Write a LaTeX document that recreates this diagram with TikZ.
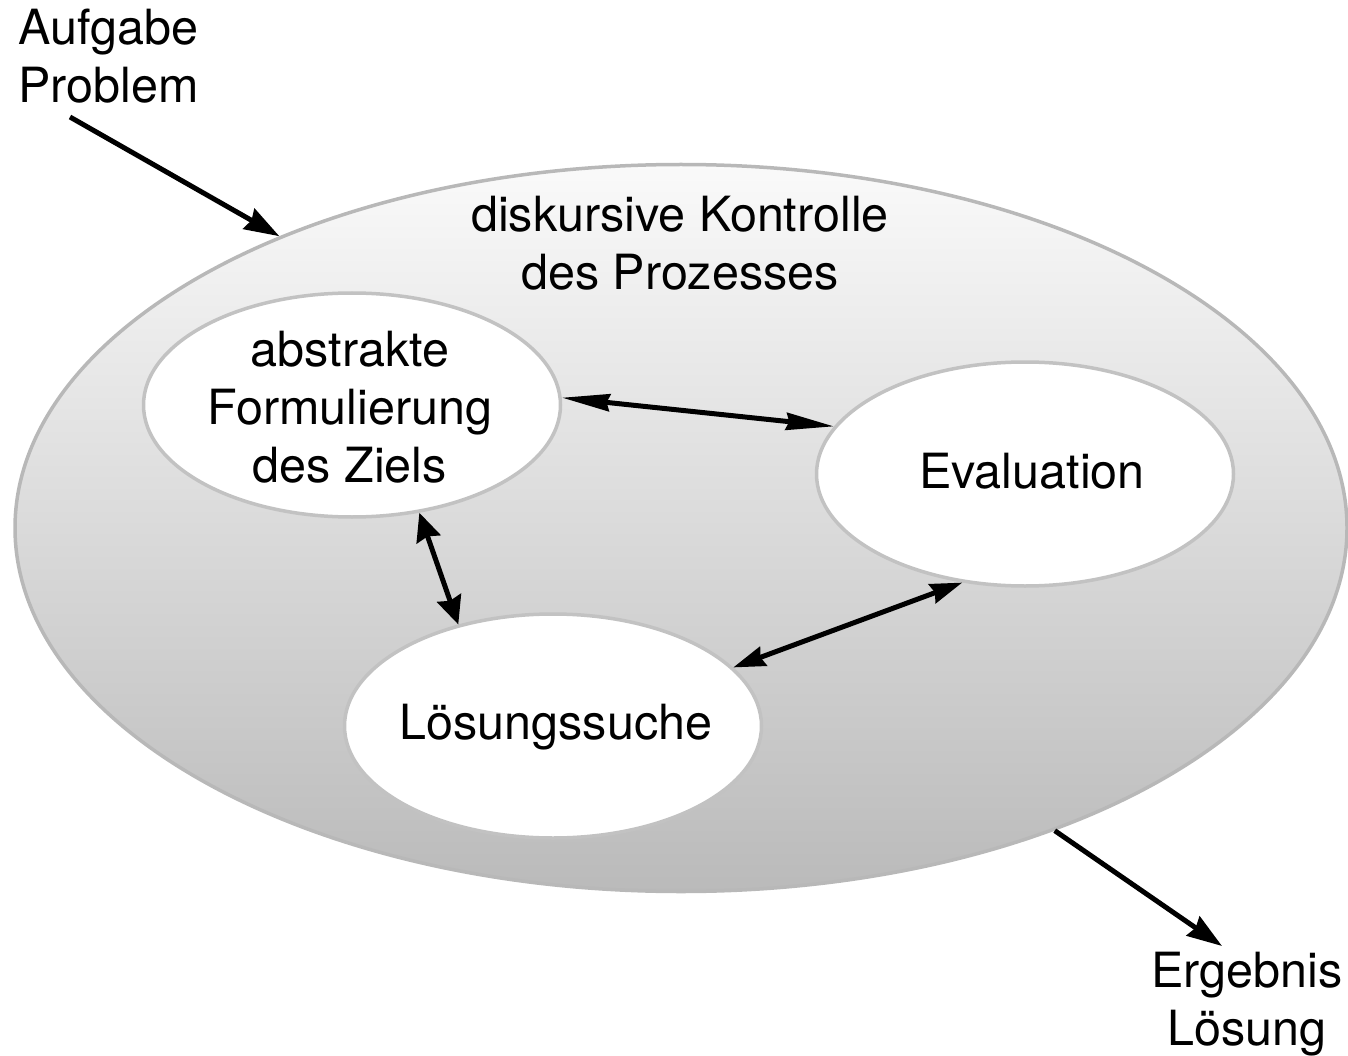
\documentclass[tikz,border=0pt]{standalone}
\usepackage{fontspec}
\setmainfont{TeX Gyre Heros}
\usetikzlibrary{arrows.meta,shapes.geometric}

\definecolor{rimgray}{gray}{0.72}
\definecolor{innerrim}{gray}{0.76}
\definecolor{shadetop}{gray}{0.98}
\definecolor{shadebottom}{gray}{0.73}

\tikzset{
  label text/.style={font=\fontsize{48.5}{58}\selectfont, inner sep=0pt, align=center},
  outer oval/.style={ellipse, draw=rimgray, line width=3.5pt,
    top color=shadetop, bottom color=shadebottom,
    minimum width=1332pt, minimum height=727pt, inner sep=0pt},
  inner oval/.style={ellipse, draw=innerrim, line width=3.5pt, fill=white,
    minimum width=417pt, minimum height=224pt, inner sep=0pt},
  link/.style={line width=5pt, draw=black},
  tipA/.style={-{Stealth[length=35pt,width=23pt,inset=3pt]}},
}

\begin{document}
\begin{tikzpicture}[x=1pt,y=-1pt]
  \useasboundingbox (0,0) rectangle (1348,1056);

  % process frame
  \node[outer oval] (frame) at (681,528) {};
  % multi-line labels are placed by the baseline of their last line
  \node[label text, anchor=base] (frametitle) at (680,290)
    {diskursive Kontrolle\\des Prozesses};

  % the three activities
  \node[inner oval] (ziel) at (352,405) {};
  \node[label text, anchor=base] (zieltext) at (350,482)
    {abstrakte\\Formulierung\\des Ziels};
  \node[inner oval] (eval) at (1025,474) {};
  \node[label text, anchor=base] (evaltext) at (1032,488) {Evaluation};
  \node[inner oval] (suche) at (553,726) {};
  \node[label text, anchor=base] (suchetext) at (556,739) {Lösungssuche};

  % input and output
  \node[label text, align=left, anchor=base west] (input) at (18,103)
    {Aufgabe\\Problem};
  \node[label text, anchor=base] (output) at (1247,1045)
    {Ergebnis\\Lösung};
  \coordinate (inputend) at (70,117);
  \coordinate (outputend) at (1222,946);

  % connectors
  \draw[link, tipA] (inputend) -- (frame.144.2);
  \draw[link, tipA] (frame.-39.6) -- (outputend);
  \draw[link, {Stealth[length=48pt,width=17pt,inset=3pt]}-{Stealth[length=48pt,width=17pt,inset=3pt]}]
    (ziel.2.7) -- (eval.166.8);
  \draw[link, {Stealth[length=28pt,width=25pt,inset=3pt]}-{Stealth[length=28pt,width=25pt,inset=3pt]}]
    (ziel.-58.3) -- (suche.133.1);
  \draw[link, {Stealth[length=32pt,width=20pt,inset=3pt]}-{Stealth[length=32pt,width=20pt,inset=3pt]}]
    (suche.18.9) -- (eval.-120.6);
\end{tikzpicture}
\end{document}
